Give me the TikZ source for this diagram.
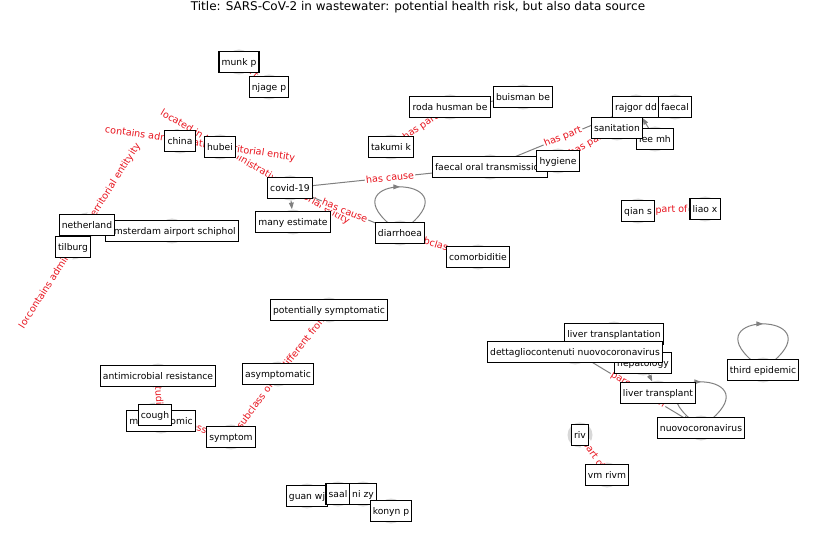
\documentclass[tikz,border=0pt]{standalone}
\usepackage{fontspec}
\setmainfont{DejaVu Sans}
\usetikzlibrary{arrows.meta, decorations.markings}

\definecolor{vgray}{RGB}{216,216,216}
\definecolor{egray}{RGB}{128,128,128}
\definecolor{ered}{RGB}{232,20,30}

\tikzset{
  vert/.style={circle, fill=vgray, draw=none, minimum size=18.75pt, inner sep=0pt},
  lbl/.style={draw=black, line width=0.8pt, fill=white, font=\fontsize{6.9}{8}\selectfont,
    inner xsep=2pt, inner ysep=2.6pt, text height=0.76em, text depth=0.24em},
  edgeline/.style={draw=egray, line width=0.75pt, -{Triangle[length=5pt,width=3.6pt]}},
  elabel/.style={text=ered, fill=white, rounded corners=1pt, inner sep=0.8pt,
    font=\fontsize{7.2}{8}\selectfont, sloped},
  selfloop/.style={draw=egray, line width=0.75pt, postaction={decorate},
    decoration={markings, mark=at position 0.5 with {\arrow{Triangle[length=5pt,width=3.6pt]}}}}
}

\begin{document}
\begin{tikzpicture}[x=0.75pt, y=0.75pt]
\useasboundingbox (0,0) rectangle (837,-559);

\node[font=\fontsize{9}{10}\selectfont] (title) at (418,-7) {Title: SARS-CoV-2 in wastewater: potential health risk, but also data source};

% vertices
\foreach \n/\x/\y in {munkp/239/62, njagep/269/87, roda/450/107, buisman/523/97,
  rajgor/636/107, faecal/675/107, sanitation/617/128, leemh/655/139,
  takumi/391/147, fot/490/167, hygiene/558/161, china/180/141, hubei/220/147,
  covid/290/188, manyest/293/222, diarrhoea/400/233, comorb/478/257,
  qians/638/211, liaox/705/209, schiphol/172/231, netherland/87/225, tilburg/73/247,
  potsymp/329/310, amr/158/376, asymp/278/374, metagen/161/421, cough/155/415,
  symptom/231/437, livertx/614/334, hepatology/643/363, dettaglio/575/352,
  livertr/658/393, nuovo/701/428, thirdep/763/370, riv/580/435, vmrivm/607/475,
  guanwj/307/496, saal/338/494, nizy/363/494, konynp/391/511}
  \node[vert] (\n) at (\x,-\y) {};

% edges
\draw[edgeline] (munkp) -- node[elabel] {part of} (njagep);
\draw[edgeline] (takumi) -- node[elabel] {has part} (roda);
\draw[edgeline] (roda) -- (buisman);
\draw[edgeline] (covid) -- (manyest);
\draw[edgeline] (covid) -- node[elabel] {located in the administrative territorial entity} (hubei);
\draw[edgeline] (china) -- node[elabel] {contains administrative territorial entity} (hubei);
\draw[edgeline] (covid) -- node[elabel] {has cause} (fot);
\draw[edgeline] (covid) -- node[elabel] {has cause} (diarrhoea);
\draw[selfloop] (diarrhoea) to[out=140, in=40, min distance=59pt] (diarrhoea);
\draw[edgeline] (diarrhoea) -- node[elabel] {subclass of} (comorb);
\draw[edgeline] (fot) -- node[elabel] {has part} (rajgor);
\draw[edgeline] (hygiene) -- node[elabel] {has part} (sanitation);
\draw[edgeline] (leemh) -- (rajgor);
\draw[edgeline] (qians) -- node[elabel] {part of} (liaox);
\draw[edgeline] (tilburg) -- node[elabel] {located in the administrative territorial entity} (netherland);
\draw[edgeline] (netherland) -- node[elabel] {contains administrative territorial entity} (tilburg);
\draw[edgeline] (metagen) -- node[elabel] {studies} (amr);
\draw[edgeline] (cough) -- node[elabel] {subclass of} (symptom);
\draw[edgeline] (asymp) -- node[elabel] {subclass of} (symptom);
\draw[edgeline] (asymp) -- node[elabel] {different from} (potsymp);
\draw[edgeline] (dettaglio) -- node[elabel] {parent taxon} (nuovo);
\draw[edgeline] (livertx) -- (hepatology);
\draw[edgeline] (hepatology) -- (livertr);
\draw[selfloop] (nuovo) to[out=140, in=40, min distance=59pt] (nuovo);
\draw[selfloop] (thirdep) to[out=140, in=40, min distance=59pt] (thirdep);
\draw[edgeline] (riv) -- node[elabel] {part of} (vmrivm);
\draw[edgeline] (nizy) -- (konynp);

% labels
\foreach \n/\t in {munkp/munk p, njagep/njage p, roda/roda husman be, buisman/buisman be,
  rajgor/rajgor dd, faecal/faecal, leemh/lee mh, sanitation/sanitation,
  takumi/takumi k, fot/faecal oral transmission, hygiene/hygiene, china/china,
  hubei/hubei, covid/covid-19, manyest/many estimate, diarrhoea/diarrhoea,
  comorb/comorbiditie, qians/qian s, liaox/liao x, schiphol/amsterdam airport schiphol,
  netherland/netherland, tilburg/tilburg, potsymp/potentially symptomatic,
  amr/antimicrobial resistance, asymp/asymptomatic, metagen/metagenomic, cough/cough,
  symptom/symptom, livertx/liver transplantation, hepatology/hepatology,
  dettaglio/dettagliocontenuti nuovocoronavirus, livertr/liver transplant,
  nuovo/nuovocoronavirus, thirdep/third epidemic, riv/riv, vmrivm/vm rivm,
  guanwj/guan wj, saal/saal, nizy/ni zy, konynp/konyn p}
  \node[lbl] (\n-t) at (\n) {\t};

\end{tikzpicture}
\end{document}
